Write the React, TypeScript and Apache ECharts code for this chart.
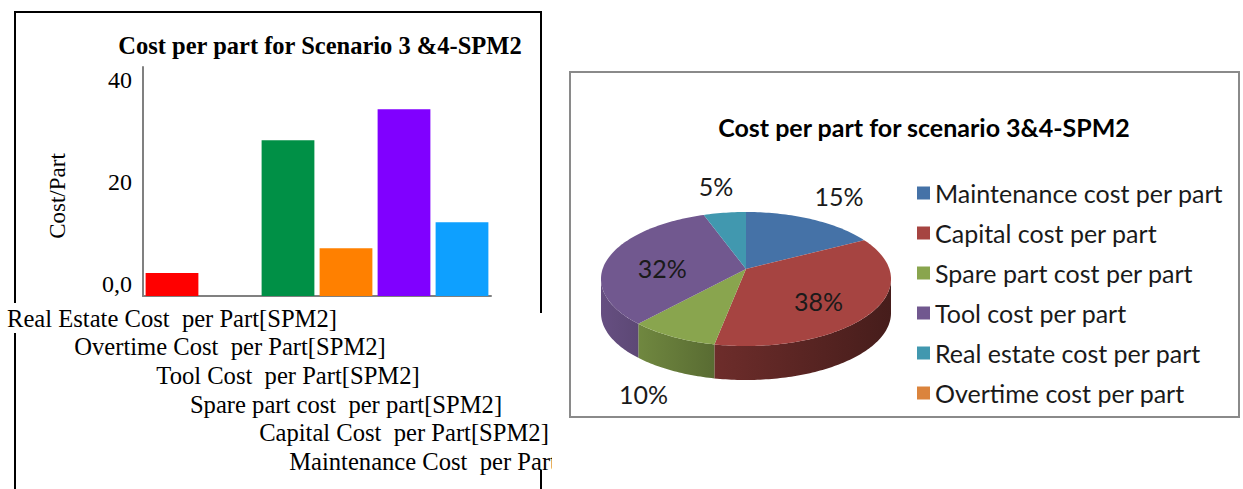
import React, { useEffect, useRef } from 'react';
import * as echarts from 'echarts';

// Bar chart: cost per part, scenario 3 & 4 (SPM2)
const barCategories = [
  'Real Estate Cost  per Part[SPM2]',
  'Overtime Cost  per Part[SPM2]',
  'Tool Cost  per Part[SPM2]',
  'Spare part cost  per part[SPM2]',
  'Capital Cost  per Part[SPM2]',
  'Maintenance Cost  per Part[SPM2]',
];
const barValues = [4.5, 0, 30.6, 9.4, 36.7, 14.5];
const barColors = ['#FF0000', '#FFC000', '#009046', '#FF8000', '#8000FF', '#0EA0FF'];

// Pie chart: share of each cost component
const pieNames = [
  'Maintenance cost per part',
  'Capital cost per part',
  'Spare part cost per part',
  'Tool cost per part',
  'Real estate cost per part',
  'Overtime cost per part',
];
const pieValues = [14.5, 36.7, 9.4, 30.6, 4.5, 0];
const pieColors = ['#4572A7', '#A64441', '#89A54E', '#71588F', '#4198AF', '#DB843D'];

// 3D pie geometry
const CX = 746;
const CY = 279;
const RX = 145;
const RY = 67;
const DEPTH = 34;
const APEX = 10;

const SERIF = 'Liberation Serif, Times New Roman, serif';
const SANS = 'Lato, Carlito, Calibri, sans-serif';

function shade(hex: string, f: number): string {
  const n = parseInt(hex.slice(1), 16);
  const r = Math.round(((n >> 16) & 255) * f);
  const g = Math.round(((n >> 8) & 255) * f);
  const b = Math.round((n & 255) * f);
  return `rgb(${r},${g},${b})`;
}

function ellipsePoint(t: number, k = 1, dy = 0): number[] {
  return [CX + RX * k * Math.sin(t), CY - RY * k * Math.cos(t) + dy];
}

const pieTotal = pieValues.reduce((a, b) => a + b, 0);
const pieStarts: number[] = [];
{
  let acc = 0;
  pieValues.forEach((v) => {
    pieStarts.push(acc);
    acc += v;
  });
}

function renderSlice(params: any, api: any) {
  const i = params.dataIndex;
  const v = api.value(0) as number;
  if (!v) return null;
  const color = pieColors[i];
  const a = (pieStarts[i] / pieTotal) * Math.PI * 2;
  const b = ((pieStarts[i] + v) / pieTotal) * Math.PI * 2;
  const children: any[] = [];

  // visible front wall of the slice
  const s = Math.max(a, Math.PI / 2);
  const e = Math.min(b, (Math.PI * 3) / 2);
  if (e > s) {
    const n = Math.max(4, Math.ceil((e - s) / 0.02));
    const pts: number[][] = [];
    for (let k = 0; k <= n; k++) pts.push(ellipsePoint(s + ((e - s) * k) / n));
    for (let k = n; k >= 0; k--) pts.push(ellipsePoint(s + ((e - s) * k) / n, 1, DEPTH));
    children.push({
      type: 'polygon',
      z2: 1,
      shape: { points: pts },
      style: {
        fill: new echarts.graphic.LinearGradient(
          CX - RX, 0, CX + RX, 0,
          [
            { offset: 0, color: shade(color, 0.9) },
            { offset: 0.38, color: shade(color, 0.66) },
            { offset: 1, color: shade(color, 0.42) },
          ],
          true
        ),
      },
    });
  }

  // top face
  const n2 = Math.max(4, Math.ceil((b - a) / 0.02));
  const top: number[][] = [[CX, CY - APEX]];
  for (let k = 0; k <= n2; k++) top.push(ellipsePoint(a + ((b - a) * k) / n2));
  children.push({ type: 'polygon', z2: 2, shape: { points: top }, style: { fill: color } });

  // percentage label
  const share = v / pieTotal;
  const mid = (a + b) / 2;
  const outside = share < 0.2;
  const front = Math.cos(mid) < 0;
  const p = ellipsePoint(mid, outside ? 1.4 : 0.6, outside && front ? DEPTH : 0);
  children.push({
    type: 'text',
    z2: 3,
    x: p[0],
    y: p[1],
    style: {
      text: `${Math.round(share * 100)}%`,
      fill: '#1a1a1a',
      fontFamily: SANS,
      fontSize: 25,
      align: 'center',
      verticalAlign: 'middle',
    },
  });

  return { type: 'group', children };
}

export default function App() {
  const ref = useRef<HTMLDivElement>(null);

  useEffect(() => {
    if (!ref.current) return;
    const chart = echarts.init(ref.current, undefined, { renderer: 'svg' });
    chart.setOption({
      animation: false,
      backgroundColor: '#ffffff',
      title: [
        {
          text: 'Cost per part for Scenario 3 &4-SPM2',
          left: 320,
          top: 31,
          textAlign: 'center',
          padding: 0,
          textStyle: { fontFamily: SERIF, fontSize: 24.5, fontWeight: 'bold', color: '#000', lineHeight: 28 },
        },
        {
          text: 'Cost per part for scenario 3&4-SPM2',
          left: 924,
          top: 113,
          textAlign: 'center',
          padding: 0,
          textStyle: { fontFamily: SANS, fontSize: 25, fontWeight: 'bold', color: '#000', lineHeight: 28 },
        },
      ],
      legend: {
        orient: 'vertical',
        left: 917,
        top: 180,
        padding: 0,
        itemWidth: 13,
        itemHeight: 13,
        itemGap: 14,
        icon: 'rect',
        selectedMode: false,
        data: pieNames,
        textStyle: { fontFamily: SANS, fontSize: 25, color: '#1a1a1a', lineHeight: 26 },
      },
      grid: { left: 143, right: 752, top: 67, bottom: 193, containLabel: false },
      xAxis: {
        type: 'category',
        data: barCategories,
        axisLine: { lineStyle: { color: '#808080', width: 2 } },
        axisTick: { show: false },
        axisLabel: {
          interval: 0,
          margin: 8,
          color: '#000',
          fontFamily: SERIF,
          fontSize: 24.6,
          lineHeight: 28.6,
          formatter: (val: string, idx: number) => '\n'.repeat(idx) + val,
        },
      },
      yAxis: {
        type: 'value',
        min: 0,
        max: 45,
        interval: 20,
        name: 'Cost/Part',
        nameLocation: 'middle',
        nameGap: 74,
        nameRotate: 90,
        nameTextStyle: { fontFamily: SERIF, fontSize: 23, color: '#000', padding: [0, 29, 0, 0] },
        axisLine: { show: true, lineStyle: { color: '#808080', width: 2 } },
        axisTick: { show: false },
        splitLine: { show: false },
        axisLabel: {
          showMaxLabel: false,
          margin: 11,
          color: '#000',
          fontFamily: SERIF,
          fontSize: 24,
          verticalAlign: 'bottom',
          formatter: (v: number) => (v === 0 ? '0,0' : String(v)),
        },
      },
      series: [
        {
          type: 'bar',
          barCategoryGap: '9%',
          data: barValues.map((v, i) => ({ value: v, itemStyle: { color: barColors[i] } })),
        },
        {
          type: 'pie',
          silent: true,
          radius: [0, 0],
          center: [CX, CY],
          label: { show: false },
          labelLine: { show: false },
          data: pieNames.map((name, i) => ({ name, value: pieValues[i], itemStyle: { color: pieColors[i] } })),
        },
        {
          type: 'custom',
          coordinateSystem: 'none',
          silent: true,
          renderItem: renderSlice,
          data: pieNames.map((name, i) => ({ name, value: [pieValues[i]] })),
        },
      ],
      graphic: [
        { type: 'line', shape: { x1: 14, y1: 12, x2: 542, y2: 12 }, style: { stroke: '#000', lineWidth: 2 } },
        { type: 'line', shape: { x1: 15, y1: 12, x2: 15, y2: 303 }, style: { stroke: '#000', lineWidth: 2 } },
        { type: 'line', shape: { x1: 15, y1: 333, x2: 15, y2: 489 }, style: { stroke: '#000', lineWidth: 2 } },
        { type: 'line', shape: { x1: 541, y1: 12, x2: 541, y2: 313 }, style: { stroke: '#000', lineWidth: 2 } },
        { type: 'line', shape: { x1: 541, y1: 470, x2: 541, y2: 489 }, style: { stroke: '#000', lineWidth: 2 } },
        // the bar panel is cut off on its right edge
        { type: 'rect', z: 100, shape: { x: 552, y: 440, width: 100, height: 49 }, style: { fill: '#fff' } },
        {
          type: 'rect',
          shape: { x: 570, y: 72, width: 669, height: 345 },
          style: { fill: 'none', stroke: '#8a8a8a', lineWidth: 2 },
        },
      ],
    });
    return () => chart.dispose();
  }, []);

  return (
    <div
      ref={ref}
      style={{ position: 'fixed', left: 0, top: 0, width: 1243, height: 489, background: '#fff' }}
    />
  );
}
